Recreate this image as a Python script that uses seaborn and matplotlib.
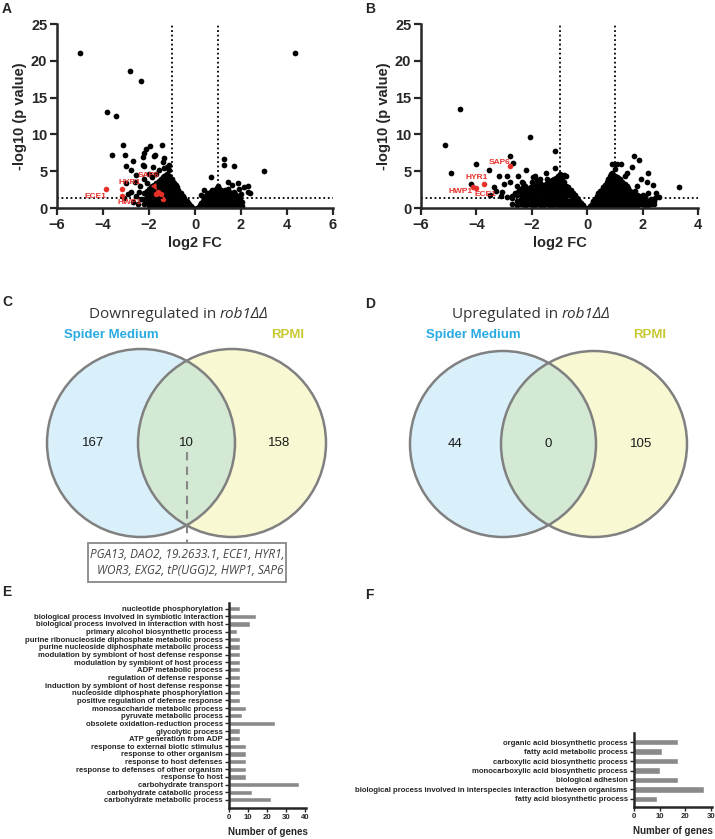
import numpy as np
import pandas as pd
import seaborn as sns
import matplotlib.pyplot as plt
from matplotlib.patches import Circle, Rectangle

sns.set_theme(style='ticks')
plt.rcParams['font.family'] = ['Liberation Sans', 'DejaVu Sans']

W, H = 715, 839

# ---------------- volcano data (log2 FC, -log10 p) ----------------
# A: dense cloud, columns of log2 FC -> list of -log10 p
a_cloud = {
    -2.2: [0.5, 1.2, 2.0], -2.1: [0.8, 1.5, 2.3], -2.0: [0.3, 1.0, 1.8, 2.6],
    -1.92: [0.6, 1.3, 2.1, 2.8], -1.85: [0.6, 1.4, 2.2, 3.0], -1.78: [0.3, 1.0, 1.7, 2.4, 3.1],
    -1.7: [0.4, 1.1, 1.9, 2.7, 3.4], -1.62: [0.6, 1.3, 2.0, 2.7, 3.3],
    -1.55: [0.2, 0.8, 1.5, 2.3, 3.0, 3.7], -1.48: [0.4, 1.1, 1.8, 2.5, 3.3, 4.0],
    -1.4: [0.3, 1.0, 1.7, 2.4, 3.1, 3.8, 4.2], -1.34: [0.7, 1.4, 2.1, 2.8, 3.5, 4.3],
    -1.28: [0.5, 1.2, 1.9, 2.6, 3.3, 4.0, 4.5], -1.22: [0.3, 1.0, 1.7, 2.4, 3.1, 3.8, 4.6],
    -1.15: [0.2, 0.9, 1.6, 2.3, 3.0, 3.7, 4.3], -1.08: [0.6, 1.3, 2.0, 2.7, 3.4, 4.1],
    -1.02: [0.4, 1.1, 1.8, 2.5, 3.2, 3.9], -0.96: [0.2, 0.9, 1.6, 2.3, 3.0, 3.6],
    -0.9: [0.2, 0.8, 1.5, 2.2, 2.9, 3.4], -0.84: [0.5, 1.2, 1.9, 2.6, 3.1],
    -0.78: [0.3, 1.0, 1.7, 2.4, 2.9], -0.72: [0.1, 0.6, 1.2, 1.8, 2.4],
    -0.66: [0.2, 0.8, 1.4, 2.0], -0.6: [0.4, 1.0, 1.6, 2.0], -0.54: [0.1, 0.6, 1.2, 1.6],
    -0.48: [0.3, 0.8, 1.3], -0.42: [0.2, 0.6, 1.0], -0.36: [0.3, 0.6, 0.9],
    -0.3: [0.1, 0.4, 0.7], -0.24: [0.2, 0.5], -0.18: [0.05, 0.3], -0.08: [0.05],
    0.1: [0.05], 0.16: [0.2], 0.22: [0.1, 0.4], 0.28: [0.3, 0.7], 0.34: [0.15, 0.6, 1.0],
    0.4: [0.4, 0.9, 1.3], 0.46: [0.2, 0.7, 1.2, 1.6], 0.52: [0.4, 1.0, 1.4, 1.9],
    0.58: [0.2, 0.7, 1.2, 1.7, 2.0], 0.64: [0.5, 1.0, 1.5, 2.0],
    0.7: [0.3, 0.8, 1.3, 1.8, 2.2], 0.76: [0.5, 1.0, 1.5, 2.0, 2.4],
    0.82: [0.2, 0.7, 1.2, 1.7, 2.2, 2.5], 0.88: [0.4, 1.0, 1.5, 2.0, 2.5],
    0.94: [0.3, 0.8, 1.3, 1.8, 2.3, 2.7], 1.0: [0.5, 1.0, 1.5, 2.0, 2.5, 3.0],
    1.06: [0.2, 0.7, 1.2, 1.7, 2.2, 2.6], 1.12: [0.4, 1.0, 1.5, 2.0, 2.4],
    1.18: [0.3, 0.8, 1.3, 1.8, 2.3], 1.24: [0.5, 1.0, 1.5, 2.0],
    1.3: [0.2, 0.7, 1.2, 1.7, 2.4], 1.36: [0.4, 1.0, 1.5, 2.1],
    1.42: [0.3, 0.8, 1.3, 1.9, 2.6], 1.48: [0.5, 1.0, 1.6, 2.2],
    1.55: [0.2, 0.7, 1.3, 2.0], 1.62: [0.5, 1.1, 1.7], 1.68: [0.4, 1.0, 1.6, 2.2],
    1.74: [0.6, 1.2, 1.9], 1.8: [0.3, 0.9, 1.5], 1.88: [0.4, 1.0, 1.6],
    1.95: [0.5, 1.2], 2.05: [0.3, 0.8],
}
a_scatter = [
    (-5.0, 21.0), (4.35, 21.0), (-2.83, 18.6), (-2.35, 17.3), (-3.83, 13.0), (-3.43, 12.5),
    (-3.13, 8.6), (-1.94, 8.4), (-2.13, 8.0), (-1.43, 8.6), (-3.6, 7.2), (-3.04, 7.2),
    (-1.74, 7.2), (-2.7, 6.4), (-2.26, 6.9), (-1.36, 6.8), (-3.0, 5.7), (-2.2, 5.7),
    (-2.2, 7.5), (-2.27, 5.9), (-1.84, 5.6), (-2.78, 5.2), (-2.57, 4.5), (-3.0, 3.35),
    (-1.12, 5.2), (-1.4, 6.3), (-1.77, 7.0), (-1.13, 5.8), (-3.07, 1.3), (-2.78, 2.2),
    (-2.71, 0.86), (-2.42, 2.2), (-2.55, 1.6), (-2.4, 3.0), (-2.6, 3.6), (-2.2, 4.0),
    (-2.0, 4.6), (-2.35, 1.2), (-2.9, 1.9), (-2.5, 0.6), (-1.85, 4.2), (-2.1, 3.4),
    (-1.7, 4.6), (-1.55, 5.2), (-1.35, 5.4), (-1.2, 5.6),
    (3.0, 5.0), (1.27, 6.6), (1.27, 5.8), (1.71, 5.75), (0.7, 4.25), (1.42, 3.6),
    (1.86, 3.35), (2.29, 2.2), (2.14, 2.9), (2.4, 2.1), (2.3, 3.0), (0.4, 2.45),
    (0.99, 2.9), (1.6, 3.1), (1.9, 2.6), (2.0, 1.9), (0.25, 1.8),
]
a_red = [(-3.87, 2.54), (-3.19, 2.54), (-3.19, 1.63), (-1.6, 2.2), (-1.5, 1.95),
         (-1.68, 1.9), (-1.4, 1.2)]

# B: dense cloud
b_cloud = {
    -2.7: [0.6, 1.3], -2.55: [0.4, 1.0, 1.7],
    -2.4: [0.5, 1.2, 1.9, 2.6], -2.32: [0.8, 1.5, 2.2, 2.9], -2.25: [0.3, 1.0, 1.7, 2.4, 3.0],
    -2.18: [0.5, 1.2, 1.9, 2.6], -2.1: [0.6, 1.3, 2.0, 2.7], -2.02: [0.7, 1.4, 2.1, 2.8],
    -1.95: [0.3, 1.0, 1.7, 2.4, 3.1], -1.88: [0.4, 1.1, 1.8, 2.5, 3.0],
    -1.8: [0.5, 1.2, 1.9, 2.6, 3.2], -1.72: [0.6, 1.3, 2.0, 2.7, 3.4],
    -1.65: [0.2, 0.9, 1.6, 2.3, 3.0], -1.58: [0.3, 1.0, 1.7, 2.4, 3.1],
    -1.5: [0.5, 1.2, 1.9, 2.6, 3.3], -1.42: [0.6, 1.3, 2.0, 2.7, 3.3],
    -1.35: [0.2, 0.9, 1.6, 2.3, 3.0, 3.6], -1.28: [0.3, 1.0, 1.7, 2.4, 3.1, 3.8],
    -1.2: [0.5, 1.2, 1.9, 2.6, 3.3, 4.0], -1.12: [0.6, 1.3, 2.0, 2.7, 3.4, 4.1],
    -1.05: [0.2, 0.9, 1.6, 2.3, 3.0, 3.7, 4.3], -0.98: [0.3, 1.0, 1.7, 2.4, 3.1, 3.8, 4.4],
    -0.9: [0.4, 1.1, 1.8, 2.5, 3.2, 3.9], -0.82: [0.6, 1.3, 2.0, 2.7, 3.5],
    -0.75: [0.2, 0.9, 1.6, 2.3, 3.0], -0.68: [0.3, 1.0, 1.7, 2.4, 2.8],
    -0.6: [0.4, 1.1, 1.8, 2.4], -0.52: [0.5, 1.1, 1.7, 2.1], -0.45: [0.2, 0.8, 1.4, 1.8],
    -0.38: [0.4, 0.9, 1.3], -0.3: [0.15, 0.6, 1.0], -0.22: [0.3, 0.7],
    -0.15: [0.1, 0.4], -0.05: [0.05],
    0.1: [0.05, 0.3], 0.16: [0.2, 0.5], 0.22: [0.1, 0.5, 0.9], 0.28: [0.3, 0.7, 1.2],
    0.34: [0.2, 0.7, 1.2, 1.6], 0.4: [0.5, 1.0, 1.5, 2.0],
    0.46: [0.3, 0.8, 1.3, 1.8, 2.3], 0.52: [0.5, 1.0, 1.5, 2.0, 2.5],
    0.58: [0.2, 0.7, 1.2, 1.7, 2.2, 2.8], 0.64: [0.5, 1.0, 1.5, 2.0, 2.5, 3.1],
    0.7: [0.4, 0.9, 1.4, 1.9, 2.4, 3.0, 3.5], 0.76: [0.5, 1.0, 1.5, 2.0, 2.5, 3.0, 3.6, 4.0],
    0.82: [0.2, 0.7, 1.2, 1.7, 2.2, 2.7, 3.2, 3.8, 4.3],
    0.88: [0.5, 1.0, 1.5, 2.0, 2.5, 3.0, 3.6, 4.1, 4.8],
    0.94: [0.4, 0.9, 1.4, 1.9, 2.4, 2.9, 3.4, 3.9, 4.5],
    1.0: [0.5, 1.0, 1.5, 2.0, 2.5, 3.0, 3.5, 4.0, 4.4],
    1.06: [0.2, 0.7, 1.2, 1.7, 2.2, 2.7, 3.2, 3.7, 4.2],
    1.12: [0.5, 1.0, 1.5, 2.0, 2.5, 3.0, 3.5, 4.1],
    1.18: [0.4, 0.9, 1.4, 1.9, 2.4, 2.9, 3.4, 3.9], 1.24: [0.5, 1.0, 1.5, 2.0, 2.5, 3.0, 3.6],
    1.3: [0.2, 0.7, 1.2, 1.7, 2.2, 2.7, 3.3], 1.36: [0.5, 1.0, 1.5, 2.0, 2.6, 3.2],
    1.42: [0.4, 0.9, 1.4, 1.9, 2.5, 3.0], 1.48: [0.5, 1.0, 1.5, 2.1, 2.7],
    1.55: [0.2, 0.7, 1.2, 1.7, 2.3], 1.62: [0.5, 1.0, 1.5, 2.1],
    1.68: [0.4, 0.9, 1.4, 2.0], 1.74: [0.6, 1.1, 1.6, 2.3], 1.8: [0.3, 0.8, 1.3, 1.8],
    1.88: [0.5, 1.1, 1.6], 1.95: [0.5, 1.0, 1.5], 2.02: [0.6, 1.2, 1.8],
    2.1: [0.3, 0.9, 1.6], 2.2: [0.4, 1.0], 2.3: [0.6, 1.2], 2.4: [0.5, 0.9],
}
b_scatter = [
    (-4.58, 13.5), (-5.15, 8.6), (-2.08, 9.6), (-4.9, 4.7), (-4.0, 6.0), (-2.8, 7.1),
    (-2.67, 6.1), (-3.53, 5.2), (-3.2, 4.4), (-2.9, 4.4), (-2.5, 4.3), (-2.2, 5.2),
    (-1.15, 7.8), (-1.15, 5.5), (-1.5, 4.7), (-1.9, 4.4), (-4.2, 3.3), (-3.0, 3.2),
    (-3.07, 2.2), (-2.8, 3.6), (-3.5, 1.8), (-3.3, 2.3), (-2.9, 1.5), (-2.6, 2.0),
    (-3.1, 1.6), (-2.7, 1.6), (-2.55, 3.0), (-2.35, 3.6), (-2.0, 3.5), (-1.7, 3.9),
    (-1.45, 4.0), (-0.85, 4.5), (-0.75, 4.4), (-1.0, 4.6), (-3.35, 2.9), (-2.45, 2.5),
    (-1.81, 3.8), (-1.95, 4.25), (-2.3, 3.4), (-2.5, 2.2),
    (1.7, 7.0), (1.87, 6.5), (0.9, 6.0), (1.08, 6.0), (1.22, 6.0), (1.0, 5.3),
    (2.2, 4.7), (3.3, 2.8), (1.95, 3.9), (2.38, 3.1), (2.5, 2.0), (2.45, 1.4),
    (1.6, 5.6), (1.45, 4.7), (2.6, 1.5), (2.2, 2.1), (2.05, 1.2), (1.8, 3.0),
    (2.3, 1.0), (2.15, 3.5), (1.35, 4.4), (0.85, 4.6),
]
b_red = [(-2.77, 5.7), (-3.71, 3.26), (-4.14, 2.85), (-4.03, 2.72)]

# ---------------- Venn data ----------------
venn_c = [167, 10, 158]
venn_d = [44, 0, 105]
shared_genes = ['PGA13, DAO2, 19.2633.1, ECE1, HYR1,',
                'WOR3, EXG2, tP(UGG)2, HWP1, SAP6']

# ---------------- GO term data ----------------
e_terms = ['nucleotide phosphorylation',
           'biological process involved in symbiotic interaction',
           'biological process involved in interaction with host',
           'primary alcohol biosynthetic process',
           'purine ribonucleoside diphosphate metabolic process',
           'purine nucleoside diphosphate metabolic process',
           'modulation by symbiont of host defense response',
           'modulation by symbiont of host process',
           'ADP metabolic process',
           'regulation of defense response',
           'induction by symbiont of host defense response',
           'nucleoside diphosphate phosphorylation',
           'positive regulation of defense response',
           'monosaccharide metabolic process',
           'pyruvate metabolic process',
           'obsolete oxidation-reduction process',
           'glycolytic process',
           'ATP generation from ADP',
           'response to external biotic stimulus',
           'response to other organism',
           'response to host defenses',
           'response to defenses of other organism',
           'response to host',
           'carbohydrate transport',
           'carbohydrate catabolic process',
           'carbohydrate metabolic process']
e_counts = [6, 14, 11, 4, 6, 6, 6, 6, 6, 6, 6, 6, 6, 9, 7, 24, 6, 6, 9, 9, 9, 9, 9, 37, 12, 22]

f_terms = ['organic acid biosynthetic process',
           'fatty acid metabolic process',
           'carboxylic acid biosynthetic process',
           'monocarboxylic acid biosynthetic process',
           'biological adhesion',
           'biological process involved in interspecies interaction between organisms',
           'fatty acid biosynthetic process']
f_counts = [17, 11, 17, 10, 17, 27, 9]

RED = '#e8302a'

fig = plt.figure(figsize=(W / 100, H / 100), dpi=100)


def px_axes(x0, y0, x1, y1):
    return fig.add_axes([x0 / W, 1 - y1 / H, (x1 - x0) / W, (y1 - y0) / H])


def cloud_df(cloud, scatter):
    rows = [(fc, p) for fc, ps in cloud.items() for p in ps] + list(scatter)
    return pd.DataFrame(rows, columns=['fc', 'p'])


def volcano(ax, cloud, scatter, red, xlim, xticks):
    sns.scatterplot(data=cloud_df(cloud, scatter), x='fc', y='p', color='black',
                    s=17, linewidth=0, ax=ax)
    sns.scatterplot(data=pd.DataFrame(red, columns=['fc', 'p']), x='fc', y='p',
                    color=RED, s=16, linewidth=0, ax=ax)
    for v in (-1, 1):
        ax.axvline(v, color='black', ls=(0, (1, 1.5)), lw=1.3)
    ax.axhline(1.3, color='black', ls=(0, (1, 1.5)), lw=1.3)
    ax.set_xlim(xlim)
    ax.set_ylim(0, 25)
    ax.set_xticks(xticks)
    ax.set_yticks([0, 5, 10, 15, 20, 25])
    sns.despine(ax=ax)
    for s in ('left', 'bottom'):
        ax.spines[s].set_linewidth(1.8)
    ax.tick_params(width=1.6, length=5, labelsize=10.5, pad=2)
    plt.setp(ax.get_xticklabels() + ax.get_yticklabels(), fontweight='bold')
    ax.set_xlabel('log2 FC', fontsize=10.5, fontweight='bold', labelpad=3)
    ax.set_ylabel('-log10 (p value)', fontsize=10.5, fontweight='bold', labelpad=3)


lab = dict(color=RED, fontsize=6, fontweight='bold', ha='center', va='center')

axA = px_axes(57, 24, 333, 208)
volcano(axA, a_cloud, a_scatter, a_red, (-6, 6), [-6, -4, -2, 0, 2, 4, 6])
axA.text(-4.35, 1.6, 'ECE1', **lab)
axA.text(-2.85, 3.4, 'HYR1', **lab)
axA.text(-2.83, 0.8, 'HWP1', **lab)
axA.annotate('SAP6', xy=(-1.6, 2.1), xytext=(-2.02, 4.35), **lab,
             arrowprops=dict(arrowstyle='-|>', color=RED, lw=0.6, mutation_scale=9))

axB = px_axes(421, 24, 698, 208)
volcano(axB, b_cloud, b_scatter, b_red, (-6, 4), [-6, -4, -2, 0, 2, 4])
axB.text(-3.15, 6.25, 'SAP6', **lab)
axB.text(-4.0, 4.2, 'HYR1', **lab)
axB.text(-4.58, 2.3, 'HWP1', **lab)
axB.text(-3.68, 1.9, 'ECE1', **lab)


# ---------------- Venn panels ----------------
def venn(x0, x1, cl, cr, cy, r, counts, word, split_x):
    ax = px_axes(x0, 290, x1, 590)
    ax.set_xlim(x0, x1)
    ax.set_ylim(590, 290)
    ax.axis('off')
    left = Circle((cl, cy), r, fc='#d9f0fb', ec='none')
    right = Circle((cr, cy), r, fc='#f8f8d2', ec='none')
    ax.add_patch(left)
    ax.add_patch(right)
    lens = Circle((cr, cy), r, fc='#d3e9d3', ec='none')
    ax.add_patch(lens)
    lens.set_clip_path(left)
    for c in (cl, cr):
        ax.add_patch(Circle((c, cy), r, fc='none', ec='#808080', lw=1.8))
    mid = (cl + cr) / 2
    for xx, n in zip([cl - 48, mid, cr + 47], counts):
        ax.text(xx, cy, str(n), ha='center', va='center', fontsize=9.5, color='#1a1a1a')
    ax.text(split_x, 315, word + ' in ', ha='right', va='center', fontsize=11,
            color='#333333', family='Open Sans')
    ax.text(split_x, 315, 'rob1ΔΔ', ha='left', va='center', fontsize=11,
            color='#333333', family='Open Sans', style='italic')
    ax.text(cl - 30, 335, 'Spider Medium', ha='center', va='center', fontsize=9.5,
            fontweight='bold', color='#29abe2')
    ax.text(cr + 56, 335, 'RPMI', ha='center', va='center', fontsize=9.5,
            fontweight='bold', color='#c8c832')
    return ax


axC = venn(0, 360, 141, 232, 443, 94, venn_c, 'Downregulated', 220)
axC.plot([186.5, 186.5], [452, 543], color='#888888', ls=(0, (4, 3)), lw=1.5)
axC.add_patch(Rectangle((88, 543), 198, 39, fc='white', ec='#888888', lw=1.3))
axC.text(187, 554, shared_genes[0], ha='center', va='center', fontsize=8.5,
         style='italic', color='#444444', family='Open Sans')
axC.text(190, 571, shared_genes[1], ha='center', va='center', fontsize=8.5,
         style='italic', color='#444444', family='Open Sans')

venn(360, 715, 503, 594, 444, 93, venn_d, 'Upregulated', 562)


# ---------------- GO bar panels ----------------
def go_bars(ax, terms, counts, xmax, xticks, ylim):
    sns.barplot(x=counts, y=terms, color='#8a8a8a', saturation=1, width=0.68,
                orient='h', ax=ax)
    ax.set_xlim(0, xmax)
    ax.set_ylim(ylim)
    ax.set_xticks(xticks)
    sns.despine(ax=ax)
    for s in ('left', 'bottom'):
        ax.spines[s].set_linewidth(1.8)
    ax.tick_params(width=1.0, length=3, labelsize=5.6, pad=1.5)
    plt.setp(ax.get_xticklabels() + ax.get_yticklabels(), fontweight='bold')
    ax.set_ylabel('')
    ax.set_xlabel('Number of genes', fontsize=7, fontweight='bold', labelpad=4)


axE = px_axes(229, 603, 306, 808)
go_bars(axE, e_terms, e_counts, 40.5, [0, 10, 20, 30, 40], (26.06, -0.74))
axF = px_axes(634, 733, 712, 807)
go_bars(axF, f_terms, f_counts, 30.3, [0, 10, 20, 30], (6.85, -0.96))

# panel letters
for letter, x, y in [('A', 2, 2), ('B', 365, 2), ('C', 2, 295), ('D', 365, 297),
                     ('E', 2, 585), ('F', 365, 588)]:
    fig.text(x / W, 1 - y / H, letter, fontsize=10, fontweight='bold', va='top')

fig.savefig('out.png', dpi=100)
